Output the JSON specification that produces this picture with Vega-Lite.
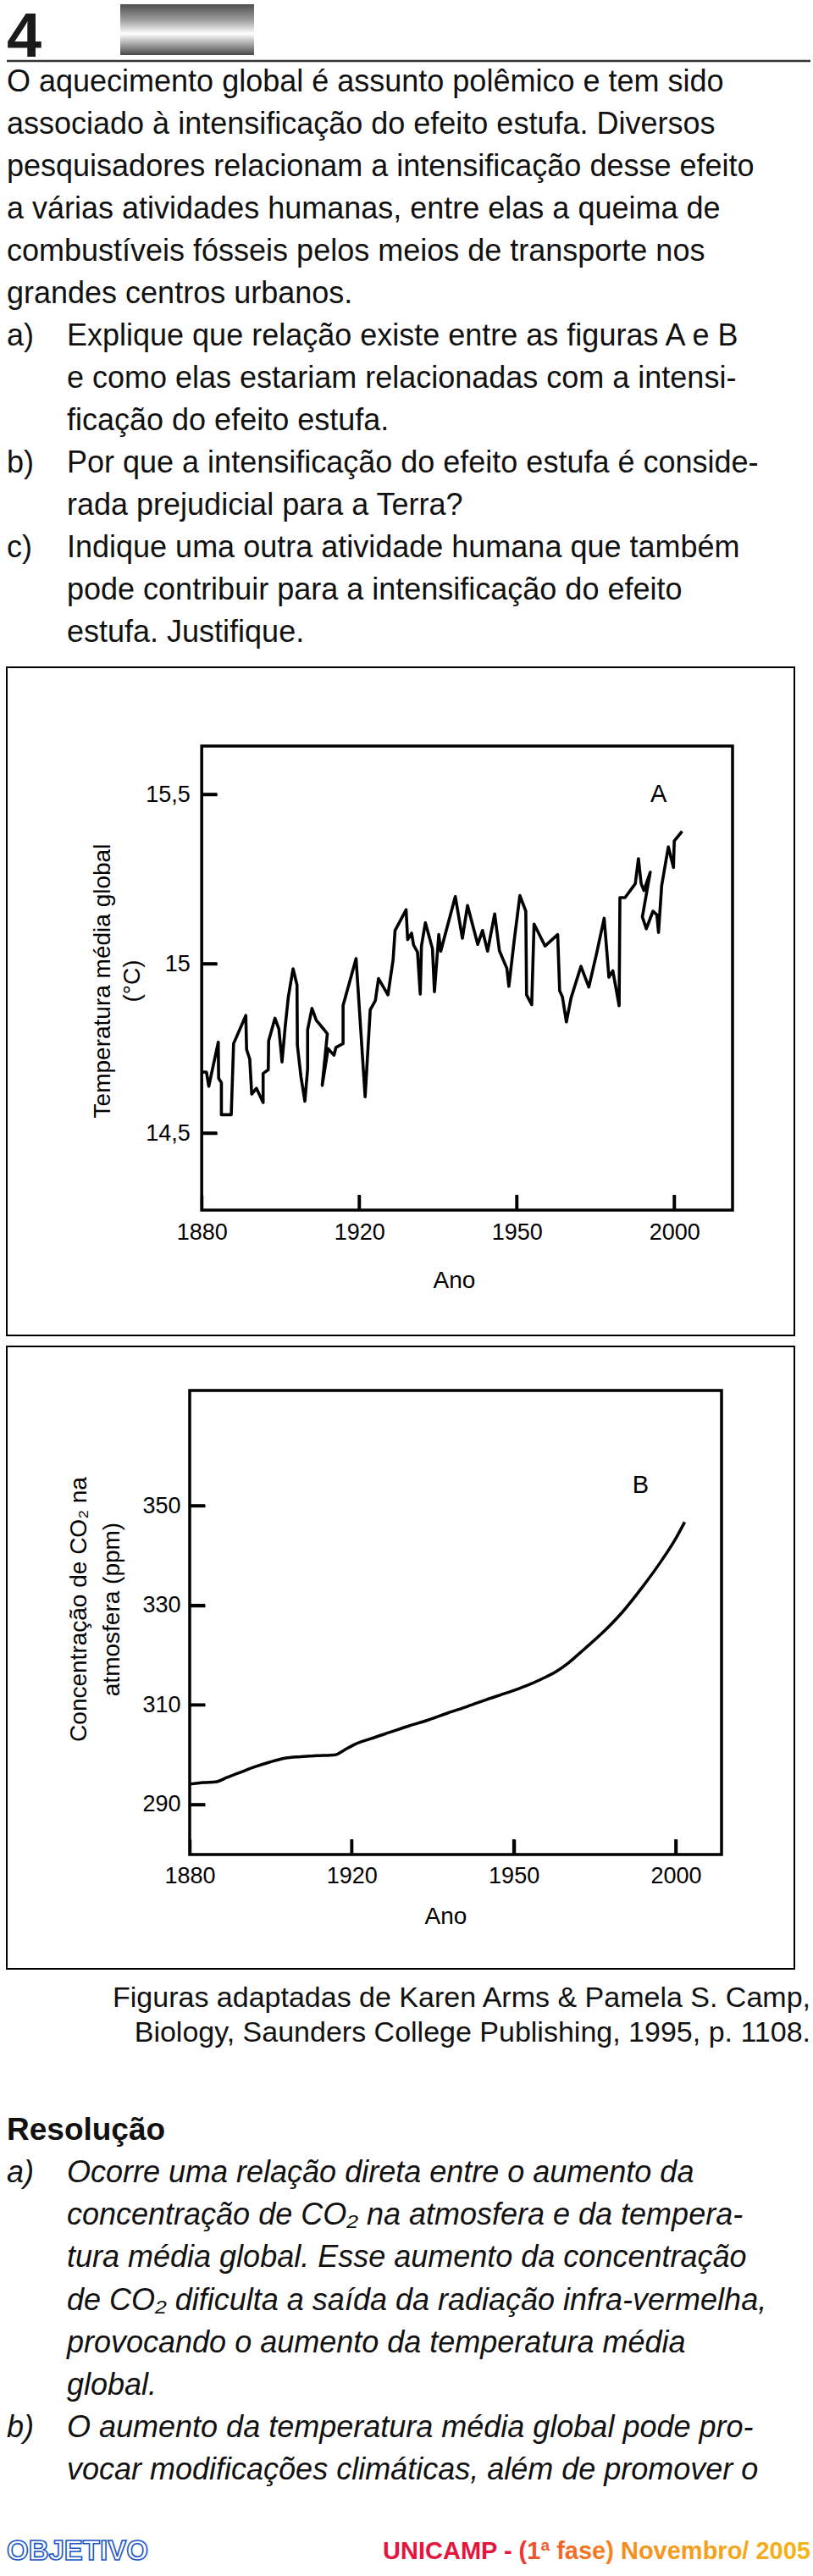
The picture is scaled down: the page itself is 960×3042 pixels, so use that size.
{
  "$schema": "https://vega.github.io/schema/vega-lite/v6.json",
  "background": "white",
  "padding": {"left": 6, "top": 0, "right": 5, "bottom": 0},
  "spacing": 13,
  "bounds": "flush",
  "config": {"view": {"stroke": null}, "font": "Liberation Sans"},
  "vconcat": [
    {
      "width": 949,
      "height": 72,
      "data": {"values": [{"n": "4"}]},
      "layer": [
        {
          "mark": {"type": "text", "font": "Liberation Sans", "fontWeight": "bold", "fontSize": 74, "align": "left", "baseline": "alphabetic", "fill": "#1a1a1a"},
          "encoding": {"text": {"field": "n"}, "x": {"value": 0}, "y": {"value": 67}}
        },
        {
          "mark": {
            "type": "rect",
            "fill": {
              "gradient": "linear", "x1": 0, "y1": 0, "x2": 0, "y2": 1,
              "stops": [
                {"offset": 0, "color": "#505050"},
                {"offset": 0.3, "color": "#9a9a9a"},
                {"offset": 0.58, "color": "#ffffff"},
                {"offset": 0.8, "color": "#a0a0a0"},
                {"offset": 1, "color": "#484848"}
              ]
            }
          },
          "encoding": {"x": {"value": 134}, "x2": {"value": 292}, "y": {"value": 5}, "y2": {"value": 65}}
        },
        {
          "mark": {"type": "rule", "stroke": "#333333", "strokeWidth": 2.5},
          "encoding": {"x": {"value": 0}, "x2": {"value": "width"}, "y": {"value": "height"}}
        }
      ]
    },
    {
      "width": 949,
      "height": 690,
      "data": {"values": [
        {"line": 0, "col": 0, "t": "O aquecimento global é assunto polêmico e tem sido"},
        {"line": 1, "col": 0, "t": "associado à intensificação do efeito estufa. Diversos"},
        {"line": 2, "col": 0, "t": "pesquisadores relacionam a intensificação desse efeito"},
        {"line": 3, "col": 0, "t": "a várias atividades humanas, entre elas a queima de"},
        {"line": 4, "col": 0, "t": "combustíveis fósseis pelos meios de transporte nos"},
        {"line": 5, "col": 0, "t": "grandes centros urbanos."},
        {"line": 6, "col": 0, "t": "a)"},
        {"line": 6, "col": 1, "t": "Explique que relação existe entre as figuras A e B"},
        {"line": 7, "col": 1, "t": "e como elas estariam relacionadas com a intensi-"},
        {"line": 8, "col": 1, "t": "ficação do efeito estufa."},
        {"line": 9, "col": 0, "t": "b)"},
        {"line": 9, "col": 1, "t": "Por que a intensificação do efeito estufa é conside-"},
        {"line": 10, "col": 1, "t": "rada prejudicial para a Terra?"},
        {"line": 11, "col": 0, "t": "c)"},
        {"line": 11, "col": 1, "t": "Indique uma outra atividade humana que também"},
        {"line": 12, "col": 1, "t": "pode contribuir para a intensificação do efeito"},
        {"line": 13, "col": 1, "t": "estufa. Justifique."}
      ]},
      "mark": {"type": "text", "align": "left", "baseline": "middle", "fontSize": 36, "font": "Liberation Sans", "fill": "#111111"},
      "encoding": {
        "x": {"field": "col", "type": "quantitative", "scale": {"domain": [0, 1], "range": [0, 71]}, "axis": null},
        "y": {"field": "line", "type": "quantitative", "scale": {"domain": [0, 13], "range": [12, 662]}, "axis": null},
        "text": {"field": "t"}
      }
    },
    {
      "width": 930,
      "height": 789,
      "view": {"stroke": "black", "strokeWidth": 2},
      "layer": [
        {
          "data": {"values": [{"box": "A"}]},
          "mark": {"type": "rect", "fill": "white", "fillOpacity": 0, "stroke": "black", "strokeWidth": 3.5},
          "encoding": {
            "x": {"datum": 1880, "type": "quantitative", "scale": {"domain": [1830.5, 2030.5], "nice": false, "zero": false}},
            "x2": {"datum": 2014.8},
            "y": {"datum": 14.2725, "type": "quantitative", "scale": {"domain": [13.9025, 15.875], "nice": false, "zero": false}},
            "y2": {"datum": 15.6425}
          }
        },
        {
          "data": {"values": [{"v": 14.5}, {"v": 15}, {"v": 15.5}]},
          "mark": {"type": "rule", "stroke": "black", "strokeWidth": 3.5, "strokeCap": "butt"},
          "encoding": {
            "y": {"field": "v", "type": "quantitative", "scale": {"domain": [13.9025, 15.875], "nice": false, "zero": false}},
            "x": {"datum": 1880, "type": "quantitative", "scale": {"domain": [1830.5, 2030.5], "nice": false, "zero": false}},
            "x2": {"datum": 1883.87}
          }
        },
        {
          "data": {"values": [{"v": 1920}, {"v": 1960}, {"v": 2000}]},
          "mark": {"type": "rule", "stroke": "black", "strokeWidth": 3.5, "strokeCap": "butt"},
          "encoding": {
            "x": {"field": "v", "type": "quantitative", "scale": {"domain": [1830.5, 2030.5], "nice": false, "zero": false}},
            "y": {"datum": 14.2725, "type": "quantitative", "scale": {"domain": [13.9025, 15.875], "nice": false, "zero": false}},
            "y2": {"datum": 14.3175}
          }
        },
        {
          "data": {"values": [
            {"i": 1, "yr": 1880.0, "t": 14.680}, {"i": 2, "yr": 1881.2, "t": 14.680}, {"i": 3, "yr": 1881.8, "t": 14.638},
            {"i": 4, "yr": 1884.2, "t": 14.768}, {"i": 5, "yr": 1884.3, "t": 14.661}, {"i": 6, "yr": 1885.0, "t": 14.649},
            {"i": 7, "yr": 1885.0, "t": 14.554}, {"i": 8, "yr": 1887.5, "t": 14.554}, {"i": 9, "yr": 1888.1, "t": 14.764},
            {"i": 10, "yr": 1891.2, "t": 14.847}, {"i": 11, "yr": 1891.4, "t": 14.747}, {"i": 12, "yr": 1892.2, "t": 14.718},
            {"i": 13, "yr": 1892.7, "t": 14.615}, {"i": 14, "yr": 1893.9, "t": 14.632}, {"i": 15, "yr": 1895.6, "t": 14.590},
            {"i": 16, "yr": 1895.6, "t": 14.676}, {"i": 17, "yr": 1896.9, "t": 14.687}, {"i": 18, "yr": 1897.0, "t": 14.772},
            {"i": 19, "yr": 1898.6, "t": 14.839}, {"i": 20, "yr": 1899.6, "t": 14.807}, {"i": 21, "yr": 1900.4, "t": 14.710},
            {"i": 22, "yr": 1901.2, "t": 14.814}, {"i": 23, "yr": 1902.0, "t": 14.902}, {"i": 24, "yr": 1903.2, "t": 14.985},
            {"i": 25, "yr": 1904.2, "t": 14.937}, {"i": 26, "yr": 1904.3, "t": 14.759}, {"i": 27, "yr": 1905.2, "t": 14.667},
            {"i": 28, "yr": 1906.2, "t": 14.594}, {"i": 29, "yr": 1906.9, "t": 14.690}, {"i": 30, "yr": 1906.9, "t": 14.805},
            {"i": 31, "yr": 1908.0, "t": 14.868}, {"i": 32, "yr": 1909.1, "t": 14.833}, {"i": 33, "yr": 1911.1, "t": 14.805},
            {"i": 34, "yr": 1911.9, "t": 14.793}, {"i": 35, "yr": 1910.6, "t": 14.641}, {"i": 36, "yr": 1912.1, "t": 14.749},
            {"i": 37, "yr": 1913.1, "t": 14.736}, {"i": 38, "yr": 1913.6, "t": 14.730}, {"i": 39, "yr": 1914.1, "t": 14.753},
            {"i": 40, "yr": 1915.9, "t": 14.764}, {"i": 41, "yr": 1915.9, "t": 14.876}, {"i": 42, "yr": 1919.2, "t": 15.015},
            {"i": 43, "yr": 1921.5, "t": 14.607}, {"i": 44, "yr": 1922.8, "t": 14.864}, {"i": 45, "yr": 1924.1, "t": 14.891},
            {"i": 46, "yr": 1924.9, "t": 14.956}, {"i": 47, "yr": 1927.3, "t": 14.908}, {"i": 48, "yr": 1928.6, "t": 15.011},
            {"i": 49, "yr": 1929.1, "t": 15.098}, {"i": 50, "yr": 1931.9, "t": 15.159}, {"i": 51, "yr": 1932.3, "t": 15.071},
            {"i": 52, "yr": 1933.3, "t": 15.090}, {"i": 53, "yr": 1933.8, "t": 15.055}, {"i": 54, "yr": 1934.8, "t": 15.034},
            {"i": 55, "yr": 1935.5, "t": 14.910}, {"i": 56, "yr": 1935.8, "t": 15.052}, {"i": 57, "yr": 1936.8, "t": 15.121},
            {"i": 58, "yr": 1938.6, "t": 15.044}, {"i": 59, "yr": 1939.1, "t": 14.917}, {"i": 60, "yr": 1940.2, "t": 15.086},
            {"i": 61, "yr": 1940.7, "t": 15.037}, {"i": 62, "yr": 1944.4, "t": 15.198}, {"i": 63, "yr": 1946.2, "t": 15.075},
            {"i": 64, "yr": 1947.5, "t": 15.172}, {"i": 65, "yr": 1950.1, "t": 15.057}, {"i": 66, "yr": 1951.3, "t": 15.098},
            {"i": 67, "yr": 1952.6, "t": 15.037}, {"i": 68, "yr": 1954.4, "t": 15.147}, {"i": 69, "yr": 1955.6, "t": 15.038},
            {"i": 70, "yr": 1957.5, "t": 14.986}, {"i": 71, "yr": 1958.0, "t": 14.933}, {"i": 72, "yr": 1959.3, "t": 15.063},
            {"i": 73, "yr": 1960.8, "t": 15.201}, {"i": 74, "yr": 1962.3, "t": 15.155}, {"i": 75, "yr": 1962.5, "t": 14.908},
            {"i": 76, "yr": 1963.8, "t": 14.879}, {"i": 77, "yr": 1964.4, "t": 15.117}, {"i": 78, "yr": 1967.2, "t": 15.052},
            {"i": 79, "yr": 1970.4, "t": 15.086}, {"i": 80, "yr": 1970.9, "t": 14.920}, {"i": 81, "yr": 1971.6, "t": 14.902},
            {"i": 82, "yr": 1972.6, "t": 14.828}, {"i": 83, "yr": 1973.8, "t": 14.899}, {"i": 84, "yr": 1976.3, "t": 14.992},
            {"i": 85, "yr": 1978.3, "t": 14.931}, {"i": 86, "yr": 1980.2, "t": 15.026}, {"i": 87, "yr": 1982.2, "t": 15.134},
            {"i": 88, "yr": 1983.4, "t": 14.960}, {"i": 89, "yr": 1984.4, "t": 14.979}, {"i": 90, "yr": 1986.0, "t": 14.876},
            {"i": 91, "yr": 1986.2, "t": 15.195}, {"i": 92, "yr": 1987.5, "t": 15.195}, {"i": 93, "yr": 1990.1, "t": 15.236},
            {"i": 94, "yr": 1990.9, "t": 15.310}, {"i": 95, "yr": 1991.6, "t": 15.236}, {"i": 96, "yr": 1992.3, "t": 15.216},
            {"i": 97, "yr": 1993.9, "t": 15.270}, {"i": 98, "yr": 1991.9, "t": 15.138}, {"i": 99, "yr": 1992.9, "t": 15.103},
            {"i": 100, "yr": 1994.6, "t": 15.155}, {"i": 101, "yr": 1995.6, "t": 15.144}, {"i": 102, "yr": 1996.0, "t": 15.092},
            {"i": 103, "yr": 1996.8, "t": 15.230}, {"i": 104, "yr": 1998.5, "t": 15.345}, {"i": 105, "yr": 1999.8, "t": 15.284},
            {"i": 106, "yr": 2000.0, "t": 15.362}, {"i": 107, "yr": 2002.0, "t": 15.391}
          ]},
          "mark": {"type": "line", "stroke": "black", "strokeWidth": 3.6, "strokeJoin": "round"},
          "encoding": {
            "x": {
              "field": "yr", "type": "quantitative",
              "scale": {"domain": [1830.5, 2030.5], "nice": false, "zero": false},
              "axis": {
                "orient": "bottom", "offset": -166, "values": [1880, 1920, 1960, 2000],
                "labelExpr": "datum.value == 1960 ? '1950' : format(datum.value, 'd')",
                "domain": false, "grid": false, "ticks": true, "tickSize": 18, "tickWidth": 3.5, "tickColor": "black",
                "labelPadding": 26, "labelBaseline": "middle", "labelFontSize": 27, "labelFont": "Liberation Sans", "labelColor": "black",
                "labelFlush": false, "labelOverlap": false,
                "title": "Ano", "titleFont": "Liberation Sans", "titleFontSize": 28, "titleFontWeight": "normal", "titleColor": "black",
                "titleX": 528, "titleY": 101, "titleBaseline": "middle", "titleAlign": "center"
              }
            },
            "y": {
              "field": "t", "type": "quantitative",
              "scale": {"domain": [13.9025, 15.875], "nice": false, "zero": false},
              "axis": {
                "orient": "left", "offset": -248.2, "values": [14.5, 15, 15.5],
                "labelExpr": "replace(format(datum.value, '.1~f'), '.', ',')",
                "domain": false, "grid": false, "ticks": true, "tickSize": 18, "tickWidth": 3.5, "tickColor": "black",
                "labelPadding": 14, "labelFontSize": 27, "labelFont": "Liberation Sans", "labelColor": "black",
                "labelOverlap": false, "labelFlush": false,
                "title": ["Temperatura média global", "(°C)"], "titleFont": "Liberation Sans", "titleFontSize": 28,
                "titleFontWeight": "normal", "titleColor": "black", "titleLineHeight": 35,
                "titleX": -135.2, "titleY": 370, "titleBaseline": "middle", "titleAlign": "center"
              }
            },
            "order": {"field": "i", "type": "quantitative"}
          }
        },
        {
          "data": {"values": [{"lab": "A"}]},
          "mark": {"type": "text", "font": "Liberation Sans", "fontSize": 29, "align": "center", "baseline": "middle", "fill": "black"},
          "encoding": {
            "x": {"datum": 1996, "type": "quantitative", "scale": {"domain": [1830.5, 2030.5], "nice": false, "zero": false}},
            "y": {"datum": 15.5, "type": "quantitative", "scale": {"domain": [13.9025, 15.875], "nice": false, "zero": false}},
            "text": {"field": "lab"}
          }
        }
      ]
    },
    {
      "width": 930,
      "height": 735,
      "view": {"stroke": "black", "strokeWidth": 2},
      "layer": [
        {
          "data": {"values": [{"box": "B"}]},
          "mark": {"type": "rect", "fill": "white", "fillOpacity": 0, "stroke": "black", "strokeWidth": 3.5},
          "encoding": {
            "x": {"datum": 1880, "type": "quantitative", "scale": {"domain": [1834.84, 2029.28], "nice": false, "zero": false}},
            "x2": {"datum": 2011.3},
            "y": {"datum": 279.97, "type": "quantitative", "scale": {"domain": [257.02, 381.96], "nice": false, "zero": false}},
            "y2": {"datum": 373.12}
          }
        },
        {
          "data": {"values": [{"v": 290}, {"v": 310}, {"v": 330}, {"v": 350}]},
          "mark": {"type": "rule", "stroke": "black", "strokeWidth": 3.5, "strokeCap": "butt"},
          "encoding": {
            "y": {"field": "v", "type": "quantitative", "scale": {"domain": [257.02, 381.96], "nice": false, "zero": false}},
            "x": {"datum": 1880, "type": "quantitative", "scale": {"domain": [1834.84, 2029.28], "nice": false, "zero": false}},
            "x2": {"datum": 1883.76}
          }
        },
        {
          "data": {"values": [{"v": 1920}, {"v": 1960}, {"v": 2000}]},
          "mark": {"type": "rule", "stroke": "black", "strokeWidth": 3.5, "strokeCap": "butt"},
          "encoding": {
            "x": {"field": "v", "type": "quantitative", "scale": {"domain": [1834.84, 2029.28], "nice": false, "zero": false}},
            "y": {"datum": 279.97, "type": "quantitative", "scale": {"domain": [257.02, 381.96], "nice": false, "zero": false}},
            "y2": {"datum": 283.03}
          }
        },
        {
          "data": {"values": [
            {"yr": 1880.0, "ppm": 294.1}, {"yr": 1883.4, "ppm": 294.4}, {"yr": 1886.7, "ppm": 294.6},
            {"yr": 1889.1, "ppm": 295.4}, {"yr": 1892.0, "ppm": 296.3}, {"yr": 1895.8, "ppm": 297.5},
            {"yr": 1899.7, "ppm": 298.5}, {"yr": 1903.5, "ppm": 299.3}, {"yr": 1907.4, "ppm": 299.6},
            {"yr": 1911.2, "ppm": 299.8}, {"yr": 1916.0, "ppm": 300.0}, {"yr": 1917.9, "ppm": 300.8},
            {"yr": 1920.8, "ppm": 302.1}, {"yr": 1924.6, "ppm": 303.2}, {"yr": 1929.4, "ppm": 304.5},
            {"yr": 1934.2, "ppm": 305.8}, {"yr": 1939.0, "ppm": 307.0}, {"yr": 1943.8, "ppm": 308.4},
            {"yr": 1948.6, "ppm": 309.7}, {"yr": 1953.4, "ppm": 311.1}, {"yr": 1958.2, "ppm": 312.4},
            {"yr": 1963.0, "ppm": 313.8}, {"yr": 1966.9, "ppm": 315.2}, {"yr": 1970.7, "ppm": 316.8},
            {"yr": 1973.6, "ppm": 318.5}, {"yr": 1977.4, "ppm": 321.2}, {"yr": 1982.2, "ppm": 324.7},
            {"yr": 1987.0, "ppm": 328.8}, {"yr": 1991.8, "ppm": 333.7}, {"yr": 1996.6, "ppm": 339.1},
            {"yr": 2000.0, "ppm": 343.4}, {"yr": 2002.2, "ppm": 346.7}
          ]},
          "mark": {"type": "line", "stroke": "black", "strokeWidth": 3.5, "interpolate": "monotone"},
          "encoding": {
            "x": {
              "field": "yr", "type": "quantitative",
              "scale": {"domain": [1834.84, 2029.28], "nice": false, "zero": false},
              "axis": {
                "orient": "bottom", "offset": -153, "values": [1880, 1920, 1960, 2000],
                "labelExpr": "datum.value == 1960 ? '1950' : format(datum.value, 'd')",
                "domain": false, "grid": false, "ticks": true, "tickSize": 18, "tickWidth": 3.5, "tickColor": "black",
                "labelPadding": 25, "labelBaseline": "middle", "labelFontSize": 27, "labelFont": "Liberation Sans", "labelColor": "black",
                "labelFlush": false, "labelOverlap": false,
                "title": "Ano", "titleFont": "Liberation Sans", "titleFontSize": 28, "titleFontWeight": "normal", "titleColor": "black",
                "titleX": 518, "titleY": 91, "titleBaseline": "middle", "titleAlign": "center"
              }
            },
            "y": {
              "field": "ppm", "type": "quantitative",
              "scale": {"domain": [257.02, 381.96], "nice": false, "zero": false},
              "axis": {
                "orient": "left", "offset": -234, "values": [290, 310, 330, 350], "format": "d",
                "domain": false, "grid": false, "ticks": true, "tickSize": 18, "tickWidth": 3.5, "tickColor": "black",
                "labelPadding": 11, "labelFontSize": 27, "labelFont": "Liberation Sans", "labelColor": "black",
                "labelOverlap": false, "labelFlush": false,
                "title": ["Concentração de CO₂ na", "atmosfera (ppm)"], "titleFont": "Liberation Sans", "titleFontSize": 28,
                "titleFontWeight": "normal", "titleColor": "black", "titleLineHeight": 39,
                "titleX": -149, "titleY": 310, "titleBaseline": "middle", "titleAlign": "center"
              }
            }
          }
        },
        {
          "data": {"values": [{"lab": "B"}]},
          "mark": {"type": "text", "font": "Liberation Sans", "fontSize": 29, "align": "center", "baseline": "middle", "fill": "black"},
          "encoding": {
            "x": {"datum": 1991.3, "type": "quantitative", "scale": {"domain": [1834.84, 2029.28], "nice": false, "zero": false}},
            "y": {"datum": 354, "type": "quantitative", "scale": {"domain": [257.02, 381.96], "nice": false, "zero": false}},
            "text": {"field": "lab"}
          }
        }
      ]
    },
    {
      "width": 949,
      "height": 76,
      "data": {"values": [
        {"line": 0, "t": "Figuras adaptadas de Karen Arms & Pamela S. Camp,"},
        {"line": 1, "t": "Biology, Saunders College Publishing, 1995, p. 1108."}
      ]},
      "mark": {"type": "text", "align": "right", "baseline": "middle", "fontSize": 34, "font": "Liberation Sans", "fill": "#111111"},
      "encoding": {
        "x": {"value": "width"},
        "y": {"field": "line", "type": "quantitative", "scale": {"domain": [0, 1], "range": [22, 63]}, "axis": null},
        "text": {"field": "t"}
      }
    },
    {
      "width": 949,
      "height": 551,
      "data": {"values": [
        {"line": -1, "col": 0, "kind": "head", "t": "Resolução"},
        {"line": 0, "col": 0, "kind": "body", "t": "a)"},
        {"line": 0, "col": 1, "kind": "body", "t": "Ocorre uma relação direta entre o aumento da"},
        {"line": 1, "col": 1, "kind": "body", "t": "concentração de CO₂ na atmosfera e da tempera-"},
        {"line": 2, "col": 1, "kind": "body", "t": "tura média global. Esse aumento da concentração"},
        {"line": 3, "col": 1, "kind": "body", "t": "de CO₂ dificulta a saída da radiação infra-vermelha,"},
        {"line": 4, "col": 1, "kind": "body", "t": "provocando o aumento da temperatura média"},
        {"line": 5, "col": 1, "kind": "body", "t": "global."},
        {"line": 6, "col": 0, "kind": "body", "t": "b)"},
        {"line": 6, "col": 1, "kind": "body", "t": "O aumento da temperatura média global pode pro-"},
        {"line": 7, "col": 1, "kind": "body", "t": "vocar modificações climáticas, além de promover o"}
      ]},
      "encoding": {
        "x": {"field": "col", "type": "quantitative", "scale": {"domain": [0, 1], "range": [0, 71]}, "axis": null},
        "y": {"field": "line", "type": "quantitative", "scale": {"domain": [-1, 7], "range": [89, 490]}, "axis": null},
        "text": {"field": "t"}
      },
      "layer": [
        {
          "transform": [{"filter": "datum.kind == 'head'"}],
          "mark": {"type": "text", "align": "left", "baseline": "middle", "fontSize": 37, "fontWeight": "bold", "font": "Liberation Sans", "fill": "#111111"}
        },
        {
          "transform": [{"filter": "datum.kind == 'body'"}],
          "mark": {"type": "text", "align": "left", "baseline": "middle", "fontSize": 36, "fontStyle": "italic", "font": "Liberation Sans", "fill": "#111111"}
        }
      ]
    },
    {
      "width": 949,
      "height": 44,
      "data": {"values": [{"a": "OBJETIVO", "b": "UNICAMP - (1ª fase) Novembro/ 2005"}]},
      "layer": [
        {
          "mark": {"type": "text", "align": "left", "baseline": "middle", "fontSize": 33, "fontWeight": "bold", "font": "Liberation Sans", "fill": "white", "stroke": "#1a56c4", "strokeWidth": 1.6},
          "encoding": {"x": {"value": 0}, "text": {"field": "a"}}
        },
        {
          "mark": {
            "type": "text", "align": "right", "baseline": "middle", "fontSize": 29, "fontWeight": "bold", "font": "Liberation Sans",
            "fill": {
              "gradient": "linear", "x1": 0, "y1": 0, "x2": 1, "y2": 0,
              "stops": [
                {"offset": 0, "color": "#e3173e"},
                {"offset": 0.29, "color": "#e3173e"},
                {"offset": 0.36, "color": "#f0592b"},
                {"offset": 0.6, "color": "#f5921f"},
                {"offset": 1, "color": "#f2b61c"}
              ]
            }
          },
          "encoding": {"x": {"value": "width"}, "text": {"field": "b"}}
        }
      ]
    }
  ]
}
